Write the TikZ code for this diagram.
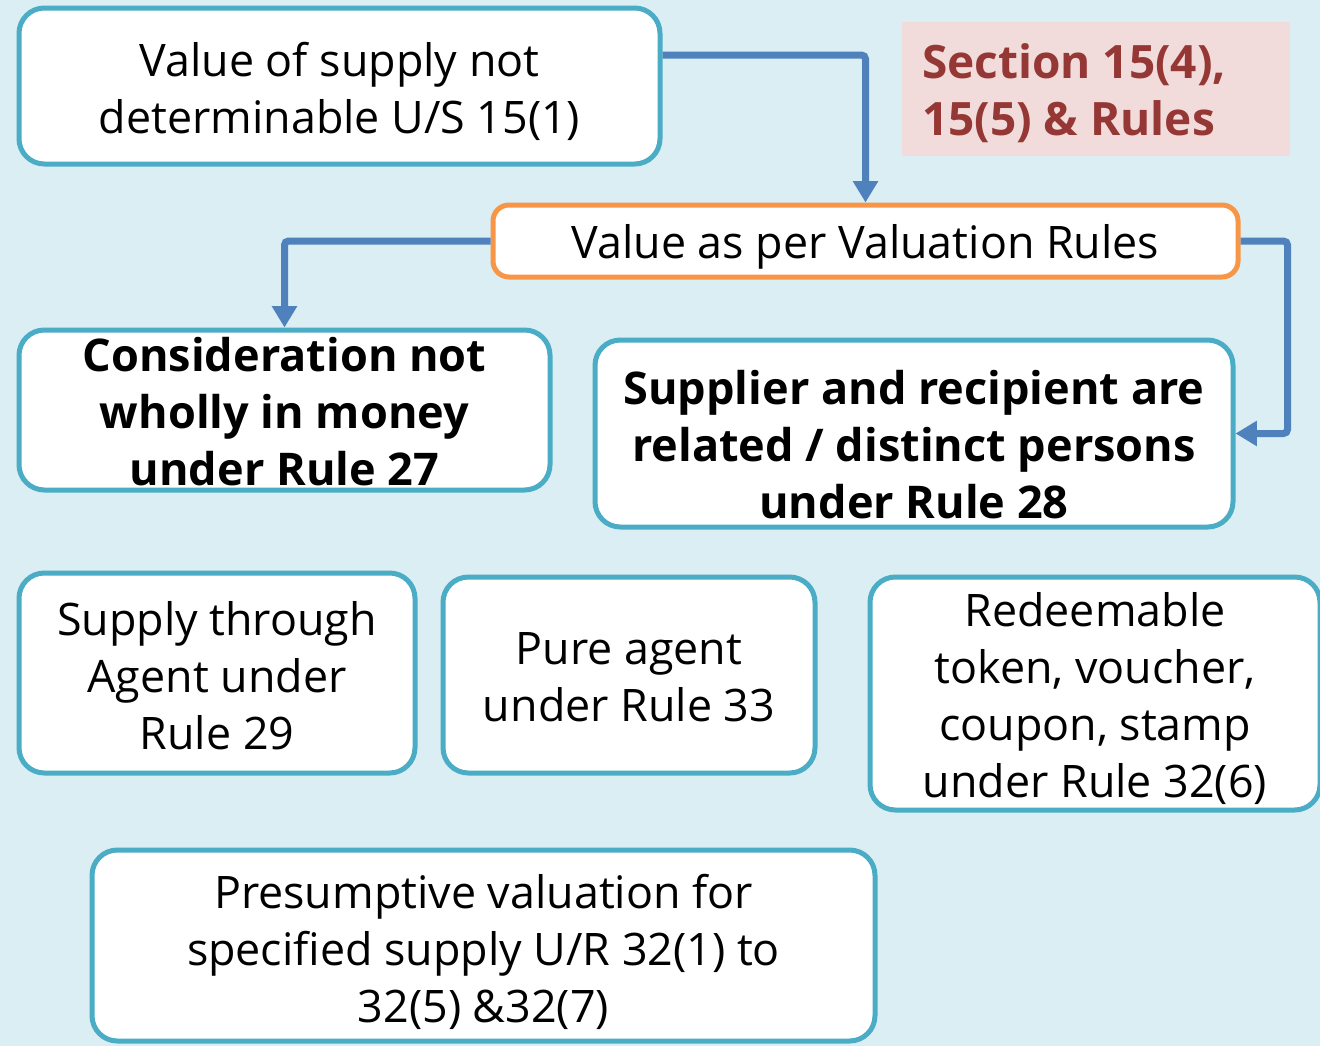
\documentclass[tikz,border=0pt]{standalone}
\usepackage{fontspec}
\setmainfont{Open Sans}
\usetikzlibrary{arrows.meta,calc}
\definecolor{bgc}{HTML}{DAEEF3}
\definecolor{bord}{HTML}{4BACC6}
\definecolor{orng}{HTML}{F79646}
\definecolor{arrc}{HTML}{4F81BD}
\definecolor{secfill}{HTML}{F2DCDB}
\definecolor{sectext}{HTML}{953735}
\tikzset{
  box/.style={draw=bord, fill=white, line width=3.75pt, rounded corners=19pt, inner sep=0pt},
  txt/.style={align=center, inner sep=0pt, font=\fontsize{33.6}{42.75}\selectfont},
  btxt/.style={txt, font=\fontsize{33.8}{42.75}\selectfont\bfseries},
  arr/.style={draw=arrc, line width=5.25pt, rounded corners=3pt,
    -{Triangle[width=18pt,length=16pt]}},
}
\begin{document}
\begin{tikzpicture}[x=0.75pt,y=-0.75pt]
\useasboundingbox (0,0) rectangle (1320,1046);
\fill[bgc] (0,0) rectangle (1320,1046);

% boxes
\node[box, minimum width=480.75pt, minimum height=117pt] (top) at (339.5,86) {};
\node[fill=secfill, minimum width=291pt, minimum height=100.5pt, inner sep=0pt] (sec) at (1096,89) {};
\node[box, draw=orng, rounded corners=12pt, minimum width=558.75pt, minimum height=54pt] (val) at (865.5,241) {};
\node[box, minimum width=398.25pt, minimum height=120pt] (cons) at (284.5,410) {};
\node[box, minimum width=478.5pt, minimum height=140.25pt] (sup) at (914,433.5) {};
\node[box, minimum width=297pt, minimum height=150pt] (agent) at (217,673) {};
\node[box, minimum width=279pt, minimum height=147pt] (pure) at (629,675) {};
\node[box, minimum width=337.5pt, minimum height=174.75pt] (red) at (1095,693.5) {};
\node[box, minimum width=587.25pt, minimum height=143.25pt] (pres) at (483.5,945.5) {};

% texts
\node[txt] (toptxt) at ($(top)+(0,5)$) {Value of supply not\\determinable U/S 15(1)};
\node[txt, anchor=west, align=left, text=sectext, font=\fontsize{34.5}{42.75}\selectfont\bfseries]
  (sectxt) at ($(sec.west)+(20,4)$) {Section 15(4),\\15(5) \& Rules};
\node[txt] (valtxt) at ($(val)+(0,6)$) {Value as per Valuation Rules};
\node[btxt] (constxt) at ($(cons)+(0,2)$) {Consideration not\\wholly in money\\under Rule 27};
\node[btxt] (suptxt) at ($(sup)+(0,11)$) {Supplier and recipient are\\related / distinct persons\\under Rule 28};
\node[txt] (agenttxt) at ($(agent)+(0,3)$) {Supply through\\Agent under\\Rule 29};
\node[txt] (puretxt) at ($(pure)+(0,2)$) {Pure agent\\under Rule 33};
\node[txt] (redtxt) at ($(red)+(0,5)$) {Redeemable\\token, voucher,\\coupon, stamp\\under Rule 32(6)};
\node[txt] (prestxt) at ($(pres)+(0,6)$) {Presumptive valuation for\\specified supply U/R 32(1) to\\32(5) \&32(7)};

% connectors
\draw[arr] ($(top.east)+(0,-31)$) -| (val.north);
\draw[arr] (val.west) -| (cons.north);
\draw[arr] (val.east) -- ++(47,0) |- (sup.east);
\end{tikzpicture}
\end{document}
